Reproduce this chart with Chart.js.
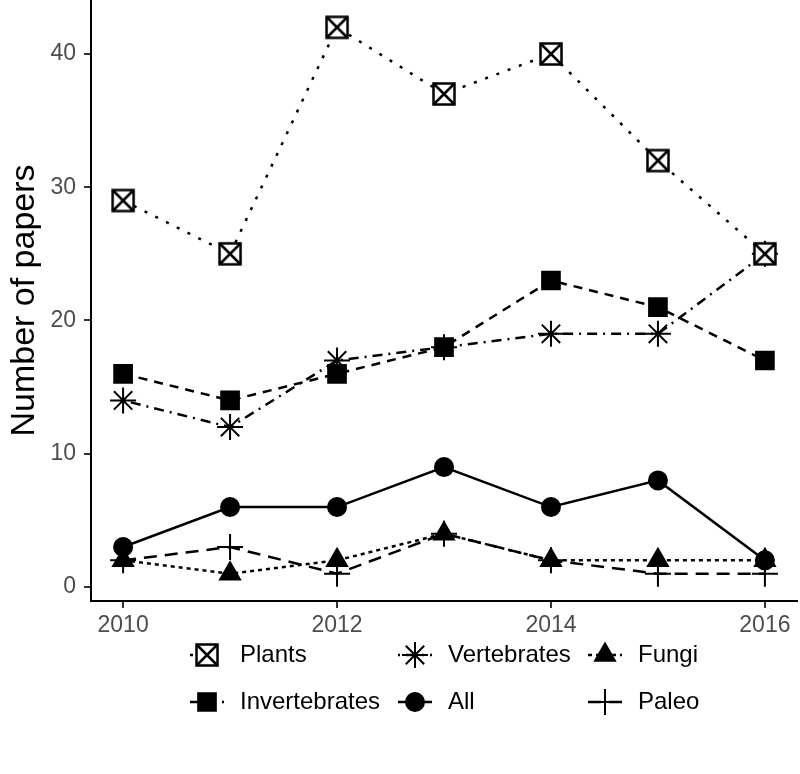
<!DOCTYPE html>
<html>
<head>
<meta charset="utf-8">
<script src="https://cdn.jsdelivr.net/npm/chart.js@4.4.1/dist/chart.umd.min.js"></script>
<style>
  html, body { margin: 0; padding: 0; background: #fff; }
</style>
</head>
<body>
<canvas id="chart" width="800" height="774"></canvas>
<script>
var years = [2010, 2011, 2012, 2013, 2014, 2015, 2016];
var plants = [29, 25, 42, 37, 40, 32, 25];
var vertebrates = [14, 12, 17, 18, 19, 19, 25];
var fungi = [2, 1, 2, 4, 2, 2, 2];
var invertebrates = [16, 14, 16, 18, 23, 21, 17];
var all = [3, 6, 6, 9, 6, 8, 2];
var paleo = [2, 3, 1, 4, 2, 1, 1];

var xTicks = [2010, 2012, 2014, 2016];
var yTicks = [0, 10, 20, 30, 40];

var FONT = '"Liberation Sans", Arial, Helvetica, sans-serif';

// boxed X marker (ggplot shape 7)
function boxedX() {
  var c = document.createElement('canvas');
  c.width = 26; c.height = 26;
  var g = c.getContext('2d');
  g.fillStyle = '#fff';
  g.fillRect(2.5, 2.5, 21, 21);
  g.strokeStyle = '#000';
  g.lineWidth = 2.5;
  g.strokeRect(2.5, 2.5, 21, 21);
  g.beginPath();
  g.moveTo(2.5, 2.5); g.lineTo(23.5, 23.5);
  g.moveTo(23.5, 2.5); g.lineTo(2.5, 23.5);
  g.stroke();
  return c;
}

var series = [
  { name: 'Plants', values: plants, dash: [3, 9], style: boxedX(), radius: 13 },
  { name: 'Vertebrates', values: vertebrates, dash: [2, 6, 10, 6], style: 'star', radius: 13 },
  { name: 'Fungi', values: fungi, dash: [4, 4], style: 'triangle', radius: 11.5 },
  { name: 'Invertebrates', values: invertebrates, dash: [9, 7], style: 'rect', radius: 12.5 },
  { name: 'All', values: all, dash: [], style: 'circle', radius: 9 },
  { name: 'Paleo', values: paleo, dash: [13, 8], style: 'cross', radius: 13 }
];

function toPoints(values) {
  return years.map(function (yr, i) { return { x: yr, y: values[i] }; });
}

var datasets = series.map(function (s) {
  return {
    label: s.name,
    data: toPoints(s.values),
    borderColor: '#000',
    backgroundColor: '#000',
    borderWidth: 2.5,
    borderDash: s.dash,
    pointStyle: s.style,
    pointRadius: s.radius,
    pointBorderWidth: 2,
    pointBorderColor: '#000',
    pointBackgroundColor: '#000',
    tension: 0,
    fill: false,
    clip: false
  };
});

// legend drawn below the panel, 2 rows x 3 columns
var legendPlugin = {
  id: 'bottomLegend',
  afterDraw: function (chart) {
    var ctx = chart.ctx;
    var colKey = [207, 415, 605];
    var rowY = [655, 702];
    ctx.save();
    series.forEach(function (s, i) {
      var col = i % 3, row = Math.floor(i / 3);
      var cx = colKey[col], cy = rowY[row];
      ctx.strokeStyle = '#000';
      ctx.fillStyle = '#000';
      ctx.lineWidth = 2.5;
      ctx.setLineDash(s.dash);
      ctx.beginPath();
      ctx.moveTo(cx - 17, cy);
      ctx.lineTo(cx + 17, cy);
      ctx.stroke();
      ctx.setLineDash([]);
      ctx.lineWidth = 2;
      Chart.helpers.drawPoint(ctx, { pointStyle: s.style, radius: s.radius, rotation: 0, borderWidth: 2 }, cx, cy);
      ctx.font = '24px ' + FONT;
      ctx.textBaseline = 'middle';
      ctx.textAlign = 'left';
      ctx.fillText(s.name, cx + 33, cy);
    });
    ctx.restore();
  }
};

new Chart(document.getElementById('chart'), {
  type: 'line',
  data: { datasets: datasets },
  plugins: [legendPlugin],
  options: {
    responsive: false,
    animation: false,
    devicePixelRatio: 1,
    layout: { autoPadding: false, padding: { top: 0, right: 3, bottom: 133, left: 0 } },
    plugins: {
      legend: { display: false },
      tooltip: { enabled: false }
    },
    scales: {
      x: {
        type: 'linear',
        min: 2009.7,
        max: 2016.3,
        afterBuildTicks: function (s) { s.ticks = xTicks.map(function (v) { return { value: v }; }); },
        afterFit: function (s) { s.height = 40; s.paddingLeft = 0; s.paddingRight = 0; },
        ticks: {
          color: '#4d4d4d',
          font: { size: 23, family: FONT },
          padding: 4,
          maxRotation: 0,
          callback: function (v) { return String(v); }
        },
        grid: { drawOnChartArea: false, drawTicks: true, tickLength: 7, color: '#333', lineWidth: 2 },
        border: { display: true, color: '#000', width: 2 }
      },
      y: {
        type: 'linear',
        min: -1.05,
        max: 44.05,
        afterBuildTicks: function (s) { s.ticks = yTicks.map(function (v) { return { value: v }; }); },
        afterFit: function (s) { s.width = 91; s.paddingTop = 0; s.paddingBottom = 0; },
        ticks: {
          color: '#4d4d4d',
          font: { size: 23, family: FONT },
          padding: 8,
          callback: function (v) { return String(v); }
        },
        grid: { drawOnChartArea: false, drawTicks: true, tickLength: 7, color: '#333', lineWidth: 2 },
        border: { display: true, color: '#000', width: 2 },
        title: {
          display: true,
          text: 'Number of papers',
          color: '#000',
          font: { size: 34, family: FONT },
          padding: { top: 4, bottom: 0 }
        }
      }
    }
  }
});
</script>
</body>
</html>
